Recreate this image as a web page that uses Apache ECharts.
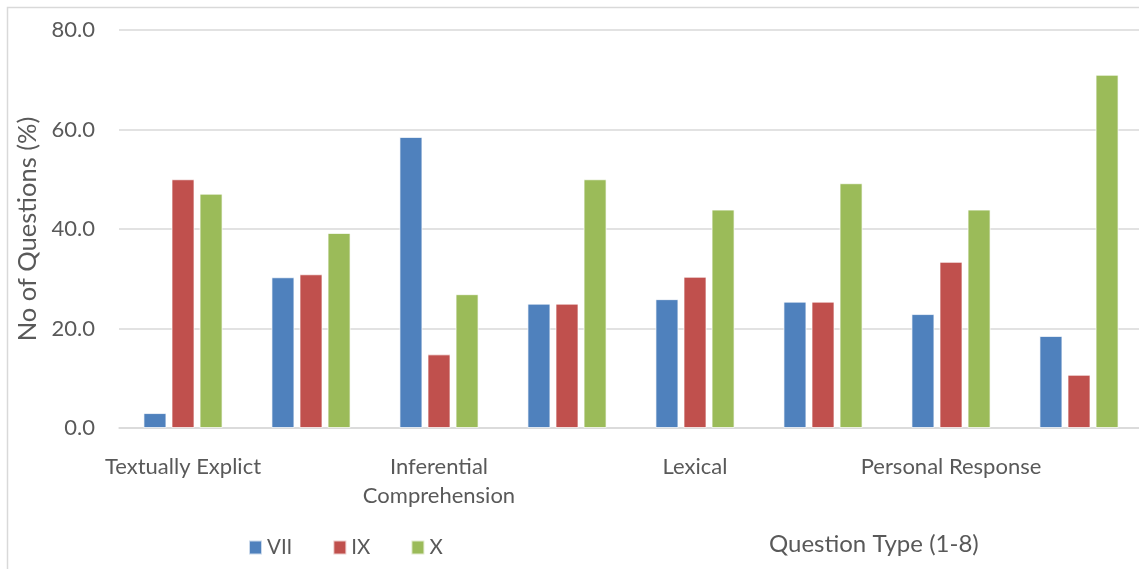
<!DOCTYPE html>
<html>
<head>
<meta charset="utf-8">
<script src="https://cdn.jsdelivr.net/npm/echarts@6/dist/echarts.min.js"></script>
<style>
  html, body { margin: 0; padding: 0; background: #ffffff; }
  #chart { width: 1139px; height: 569px; }
</style>
</head>
<body>
<div id="chart"></div>
<script>
// Question types 1-8; only every other type carries a printed label
const categories = ['1', '2', '3', '4', '5', '6', '7', '8'];
const tickLabels = ['Textually Explict', '', 'Inferential\nComprehension', '', 'Lexical', '', 'Personal Response', ''];
const yTicks = [0, 20, 40, 60, 80];

// Share of questions (%) per class
const seriesNames = ['VII', 'IX', 'X'];
const valuesVII = [3.0, 30.3, 58.5, 25.0, 25.9, 25.4, 22.9, 18.5];
const valuesIX  = [50.0, 30.9, 14.8, 25.0, 30.4, 25.4, 33.4, 10.7];
const valuesX   = [47.1, 39.2, 26.9, 50.0, 43.9, 49.2, 43.9, 71.0];

const colors = ['#4F81BD', '#C0504D', '#9BBB59'];
const textColor = '#595959';
const gridColor = '#D9D9D9';
const fontFamily = 'Lato, "Open Sans", sans-serif';

const chart = echarts.init(document.getElementById('chart'), null, { renderer: 'canvas' });

const barSeries = [valuesVII, valuesIX, valuesX].map((vals, i) => ({
  name: seriesNames[i],
  type: 'bar',
  data: vals,
  barWidth: 23,
  barGap: '22%',
  itemStyle: { color: colors[i], borderColor: 'rgba(255,255,255,0.7)', borderWidth: 1 },
  emphasis: { disabled: true }
}));

chart.setOption({
  animation: false,
  color: colors,
  textStyle: { fontFamily: fontFamily },
  title: {
    text: 'Question Type (1-8)',
    left: 769,
    top: 532,
    padding: 0,
    textStyle: { fontSize: 24, fontWeight: 'normal', color: textColor, fontFamily: fontFamily }
  },
  legend: {
    data: seriesNames,
    left: 248,
    top: 537,
    padding: 0,
    icon: 'rect',
    itemWidth: 13,
    itemHeight: 14,
    itemGap: 40,
    textStyle: { fontSize: 20.5, color: textColor, fontFamily: fontFamily }
  },
  grid: {
    left: 119,
    top: 30,
    width: 1024,
    bottom: 141,
    containLabel: false,
    outerBoundsMode: 'none'
  },
  xAxis: {
    type: 'category',
    data: categories,
    axisLine: { show: true, lineStyle: { color: gridColor, width: 1.5 } },
    axisTick: { show: false },
    axisLabel: {
      interval: 0,
      margin: 24,
      fontSize: 22,
      lineHeight: 29,
      color: textColor,
      fontFamily: fontFamily,
      formatter: (v, i) => tickLabels[i]
    }
  },
  yAxis: {
    type: 'value',
    min: yTicks[0],
    max: yTicks[yTicks.length - 1],
    interval: yTicks[1] - yTicks[0],
    name: 'No of Questions (%)',
    nameLocation: 'middle',
    nameGap: 76,
    nameRotate: 90,
    nameTextStyle: { fontSize: 25.5, color: textColor, fontFamily: fontFamily },
    axisLine: { show: false },
    axisTick: { show: false },
    axisLabel: {
      margin: 24,
      fontSize: 22,
      color: textColor,
      fontFamily: fontFamily,
      formatter: v => v.toFixed(1)
    },
    splitLine: { lineStyle: { color: gridColor, width: 1.5 } }
  },
  graphic: [{
    type: 'rect',
    silent: true,
    shape: { x: 7.5, y: 7.5, width: 1200, height: 620 },
    style: { fill: 'none', stroke: gridColor, lineWidth: 1.5 }
  }],
  series: barSeries
});
</script>
</body>
</html>
